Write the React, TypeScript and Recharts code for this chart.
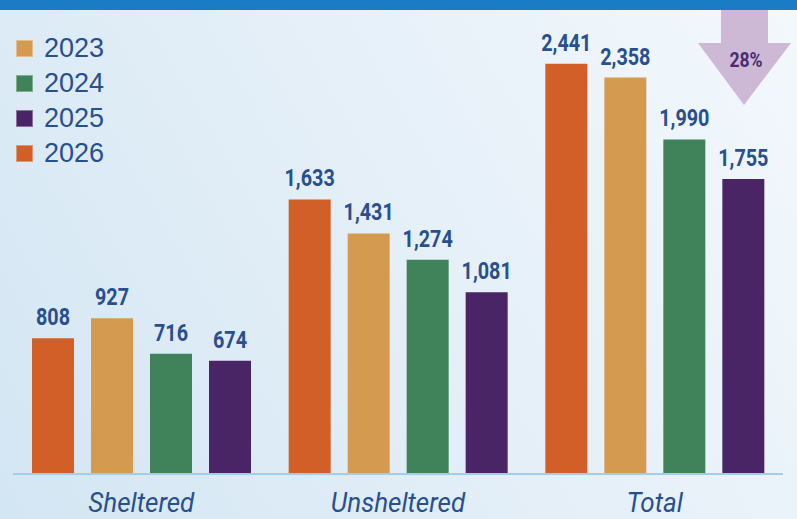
import React from 'react';
import { BarChart, Bar, XAxis, YAxis, LabelList } from 'recharts';

const categories = ['Sheltered', 'Unsheltered', 'Total'];
const values2026 = [808, 1633, 2441];
const values2023 = [927, 1431, 2358];
const values2024 = [716, 1274, 1990];
const values2025 = [674, 1081, 1755];
const legendYears = ['2023', '2024', '2025', '2026'];
const changeLabel = '28%';

const COLORS: Record<string, string> = {
    '2023': '#d49a50',
    '2024': '#408259',
    '2025': '#4a2566',
    '2026': '#d25f27',
};
const TEXT = '#284f8f';

const data = categories.map((name, i) => ({
    name,
    y2026: values2026[i],
    y2023: values2023[i],
    y2024: values2024[i],
    y2025: values2025[i],
}));

// bars are drawn in the same order as the picture: orange first
const seriesOrder = [
    { key: 'y2026', year: '2026' },
    { key: 'y2023', year: '2023' },
    { key: 'y2024', year: '2024' },
    { key: 'y2025', year: '2025' },
];

const fmt = (v: any) => Number(v).toLocaleString('en-US');

// condensed bold value label above each bar
const ValueLabel = (props: any) => {
    const { x, y, width, value } = props;
    const cx = x + width / 2;
    const ty = y - 13;
    return (
        <text
            x={cx}
            y={ty}
            textAnchor="middle"
            fill={TEXT}
            fontFamily="Roboto, sans-serif"
            fontWeight="bold"
            fontSize={23}
            transform={`translate(${cx} 0) scale(0.86 1) translate(${-cx} 0)`}
        >
            {fmt(value)}
        </text>
    );
};

const CategoryTick = (props: any) => {
    const { x, y, payload } = props;
    return (
        <text
            x={x}
            y={y + 30}
            textAnchor="middle"
            fill={TEXT}
            fontFamily="Roboto, sans-serif"
            fontStyle="italic"
            fontSize={28}
            transform={`translate(${x} 0) scale(0.93 1) translate(${-x} 0)`}
        >
            {payload.value}
        </text>
    );
};

const App: React.FC = () => {
    return (
        <div
            style={{
                position: 'absolute',
                left: 0,
                top: 0,
                width: 797,
                height: 519,
                overflow: 'hidden',
                background: 'linear-gradient(60deg, #d3e6f3 0%, #e4eff8 50%, #f3f8fc 100%)',
            }}
        >
            <div style={{ position: 'absolute', left: 0, top: 0, width: 797, height: 10, background: '#1a7cc4' }} />

            <div style={{ position: 'absolute', left: 0, top: 0 }}>
                <BarChart
                    width={797}
                    height={519}
                    data={data}
                    margin={{ top: 10, right: 14, left: 13, bottom: 15 }}
                    barSize={42}
                    barGap={17}
                >
                    <XAxis
                        dataKey="name"
                        height={30}
                        axisLine={{ stroke: '#a3cce8', strokeWidth: 2 }}
                        tickLine={false}
                        tick={<CategoryTick />}
                        interval={0}
                    />
                    <YAxis hide domain={[0, 2760]} />
                    {seriesOrder.map((s) => (
                        <Bar key={s.key} dataKey={s.key} fill={COLORS[s.year]} isAnimationActive={false}>
                            <LabelList dataKey={s.key} content={<ValueLabel />} />
                        </Bar>
                    ))}
                </BarChart>
            </div>

            {/* legend */}
            <div style={{ position: 'absolute', left: 16, top: 31 }}>
                {legendYears.map((yr) => (
                    <div key={yr} style={{ display: 'flex', alignItems: 'center', height: 35 }}>
                        <div
                            style={{
                                width: 15,
                                height: 15,
                                background: COLORS[yr],
                                border: '1px solid rgba(255,255,255,0.35)',
                                marginRight: 11,
                            }}
                        />
                        <span style={{ fontFamily: '"Liberation Sans", Arial, sans-serif', fontSize: 27, color: TEXT, lineHeight: '35px' }}>
                            {yr}
                        </span>
                    </div>
                ))}
            </div>

            {/* down arrow */}
            <svg width={797} height={519} style={{ position: 'absolute', left: 0, top: 0, pointerEvents: 'none' }}>
                <polygon points="721,10 768,10 768,43 791,43 744,105 698,43 721,43" fill="#cdb9d5" />
                <text
                    x={746}
                    y={67}
                    textAnchor="middle"
                    fill="#4b2b72"
                    fontFamily="Roboto, sans-serif"
                    fontWeight="bold"
                    fontSize={20}
                    transform="translate(746 0) scale(0.88 1) translate(-746 0)"
                >
                    {changeLabel}
                </text>
            </svg>
        </div>
    );
};

export default App;
